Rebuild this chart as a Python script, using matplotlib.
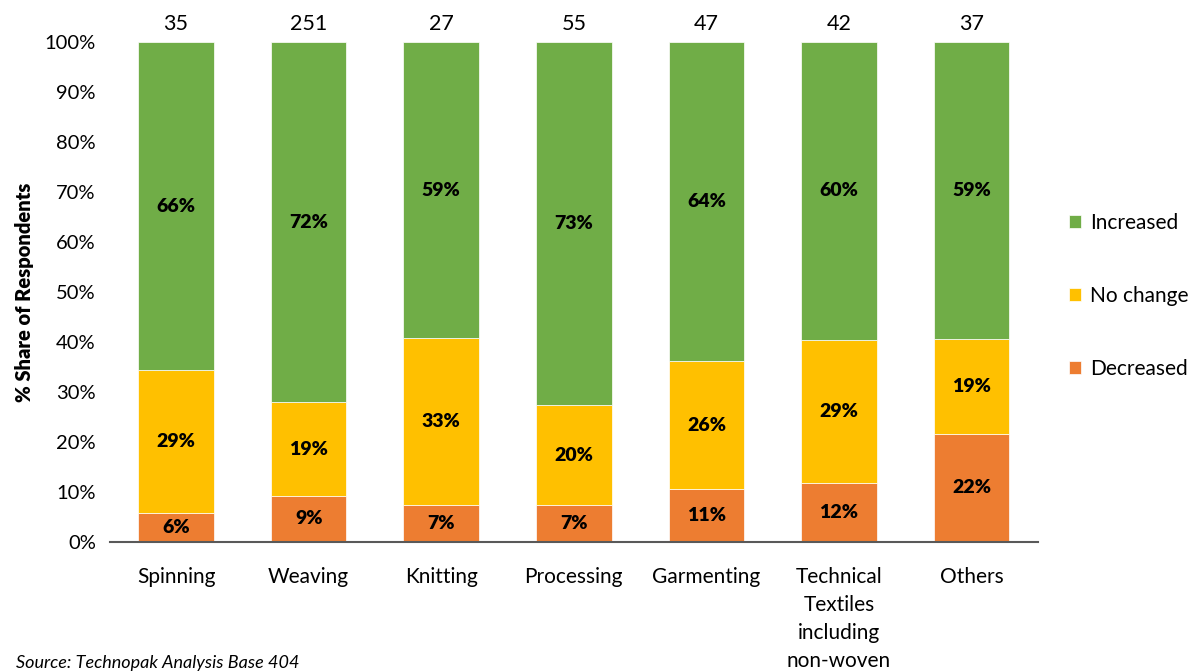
import matplotlib
matplotlib.use('Agg')
import matplotlib.pyplot as plt
import numpy as np

plt.rcParams['font.family'] = ['Lato', 'DejaVu Sans']

categories = ['Spinning', 'Weaving', 'Knitting', 'Processing', 'Garmenting',
              'Technical\nTextiles\nincluding\nnon-woven', 'Others']
respondents = [35, 251, 27, 55, 47, 42, 37]
decreased = [5.7, 9.2, 7.4, 7.3, 10.6, 11.8, 21.6]
no_change = [28.6, 18.7, 33.3, 20.0, 25.5, 28.6, 19.0]
increased = [100 - d - n for d, n in zip(decreased, no_change)]

green = '#70AD47'
yellow = '#FFC000'
orange = '#ED7D31'

fig = plt.figure(figsize=(11.93, 6.72), dpi=100)
ax = fig.add_axes([0.092, 0.1935, 0.778, 0.744])

x = np.arange(len(categories))
w = 0.57
dec = np.array(decreased)
nc = np.array(no_change)
inc = np.array(increased)

ax.bar(x, dec, w, color=orange, edgecolor='white', linewidth=0.5, label='Decreased')
ax.bar(x, nc, w, bottom=dec, color=yellow, edgecolor='white', linewidth=0.5, label='No change')
ax.bar(x, inc, w, bottom=dec + nc, color=green, edgecolor='white', linewidth=0.5, label='Increased')

# segment labels
for i in range(len(x)):
    ax.text(x[i], dec[i] / 2, f'{dec[i]:.0f}%', ha='center', va='center',
            fontsize=14, fontweight='heavy')
    ax.text(x[i], dec[i] + nc[i] / 2, f'{nc[i]:.0f}%', ha='center', va='center',
            fontsize=14, fontweight='heavy')
    ax.text(x[i], dec[i] + nc[i] + inc[i] / 2, f'{inc[i]:.0f}%', ha='center', va='center',
            fontsize=14, fontweight='heavy')
    ax.text(x[i], 101.6, str(respondents[i]), ha='center', va='bottom', fontsize=15.5)

ax.set_xlim(-0.5, len(x) - 0.5)
ax.set_ylim(0, 100)
ax.set_yticks(np.arange(0, 101, 10))
ax.set_yticklabels([f'{v}%' for v in range(0, 101, 10)], fontsize=14.5)
ax.set_xticks(x)
ax.set_xticklabels(categories, fontsize=15, linespacing=1.5, va='top')
ax.tick_params(axis='y', length=0, pad=10)
ax.tick_params(axis='x', length=0, pad=18)
ax.set_ylabel('% Share of Respondents', fontsize=14.5, fontweight='heavy', labelpad=8)

for s in ['top', 'right', 'left']:
    ax.spines[s].set_visible(False)
ax.spines['bottom'].set_color('#595959')
ax.spines['bottom'].set_linewidth(1.5)

handles, labels = ax.get_legend_handles_labels()
fig.legend(handles[::-1], labels[::-1], loc='center left', bbox_to_anchor=(0.88, 0.56),
           frameon=False, fontsize=15, handlelength=0.6, handleheight=0.6,
           handletextpad=0.45, labelspacing=2.55)

fig.text(0.013, 0.002, 'Source: Technopak Analysis Base 404', fontsize=13,
         style='italic', va='bottom', ha='left')

fig.savefig('out.png', dpi=100)
